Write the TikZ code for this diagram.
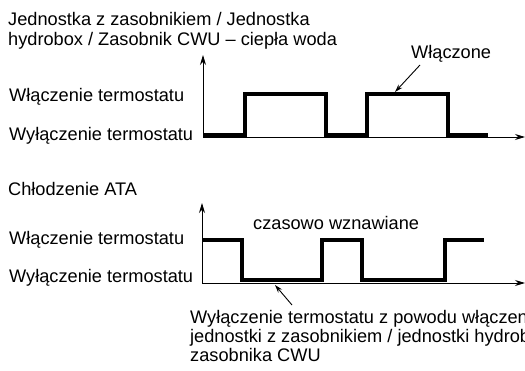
\documentclass[tikz,border=0pt]{standalone}
\usepackage{fontspec}
\setmainfont{Liberation Sans}
\usetikzlibrary{arrows.meta}
\begin{document}
\begin{tikzpicture}[x=1pt,y=-1pt,
  lbl/.style={anchor=base west,inner sep=0pt,font=\fontsize{18.2}{20}\selectfont},
  axisline/.style={line width=0.9pt,-{Stealth[length=10pt,width=6pt]}},
  signal/.style={line width=3.8pt,line join=miter},
  pointer/.style={line width=0.9pt,-{Stealth[length=8pt,width=5pt]}}]
\useasboundingbox (0,0) rectangle (525,371);
\clip (0,0) rectangle (525,371);
% ---------- top diagram ----------
\node[lbl] (t1) at (8,26) {Jednostka z zasobnikiem / Jednostka};
\node[lbl] (t2) at (8,46) {hydrobox / Zasobnik CWU – ciepła woda};
\node[lbl] (on1) at (9,102) {Włączenie termostatu};
\node[lbl] (off1) at (9,141) {Wyłączenie termostatu};
\coordinate (o1) at (203,137);
\draw[axisline] (o1) -- (203,55);
\draw[axisline] (o1) -- (525,137);
\draw[signal] (203,135) -- (245,135) -- (245,94) -- (326,94) -- (326,135)
  -- (367,135) -- (367,94) -- (448,94) -- (448,135) -- (488,135);
\node[lbl] (won) at (411,59) {Włączone};
\coordinate (wonA) at (420,65);
\coordinate (wonB) at (395,92);
\draw[pointer] (wonA) -- (wonB);
% ---------- bottom diagram ----------
\node[lbl] (ata) at (8,196) {Chłodzenie ATA};
\node[lbl] (on2) at (9,245) {Włączenie termostatu};
\node[lbl] (off2) at (9,283) {Wyłączenie termostatu};
\coordinate (o2) at (202,283);
\draw[axisline] (o2) -- (202,203);
\draw[axisline] (o2) -- (525,283);
\draw[signal] (202,240) -- (242,240) -- (242,280) -- (322,280) -- (322,240)
  -- (362,240) -- (362,280) -- (445,280) -- (445,240) -- (484,240);
\node[lbl] (cz) at (253,230) {czasowo wznawiane};
\coordinate (pA) at (292,305);
\coordinate (pB) at (275,285);
\draw[pointer] (pA) -- (pB);
\node[lbl] (b1) at (190,324) {Wyłączenie termostatu z powodu włączenia};
\node[lbl] (b2) at (190,343) {jednostki z zasobnikiem / jednostki hydrobox /};
\node[lbl] (b3) at (190,362) {zasobnika CWU};
\end{tikzpicture}
\end{document}
